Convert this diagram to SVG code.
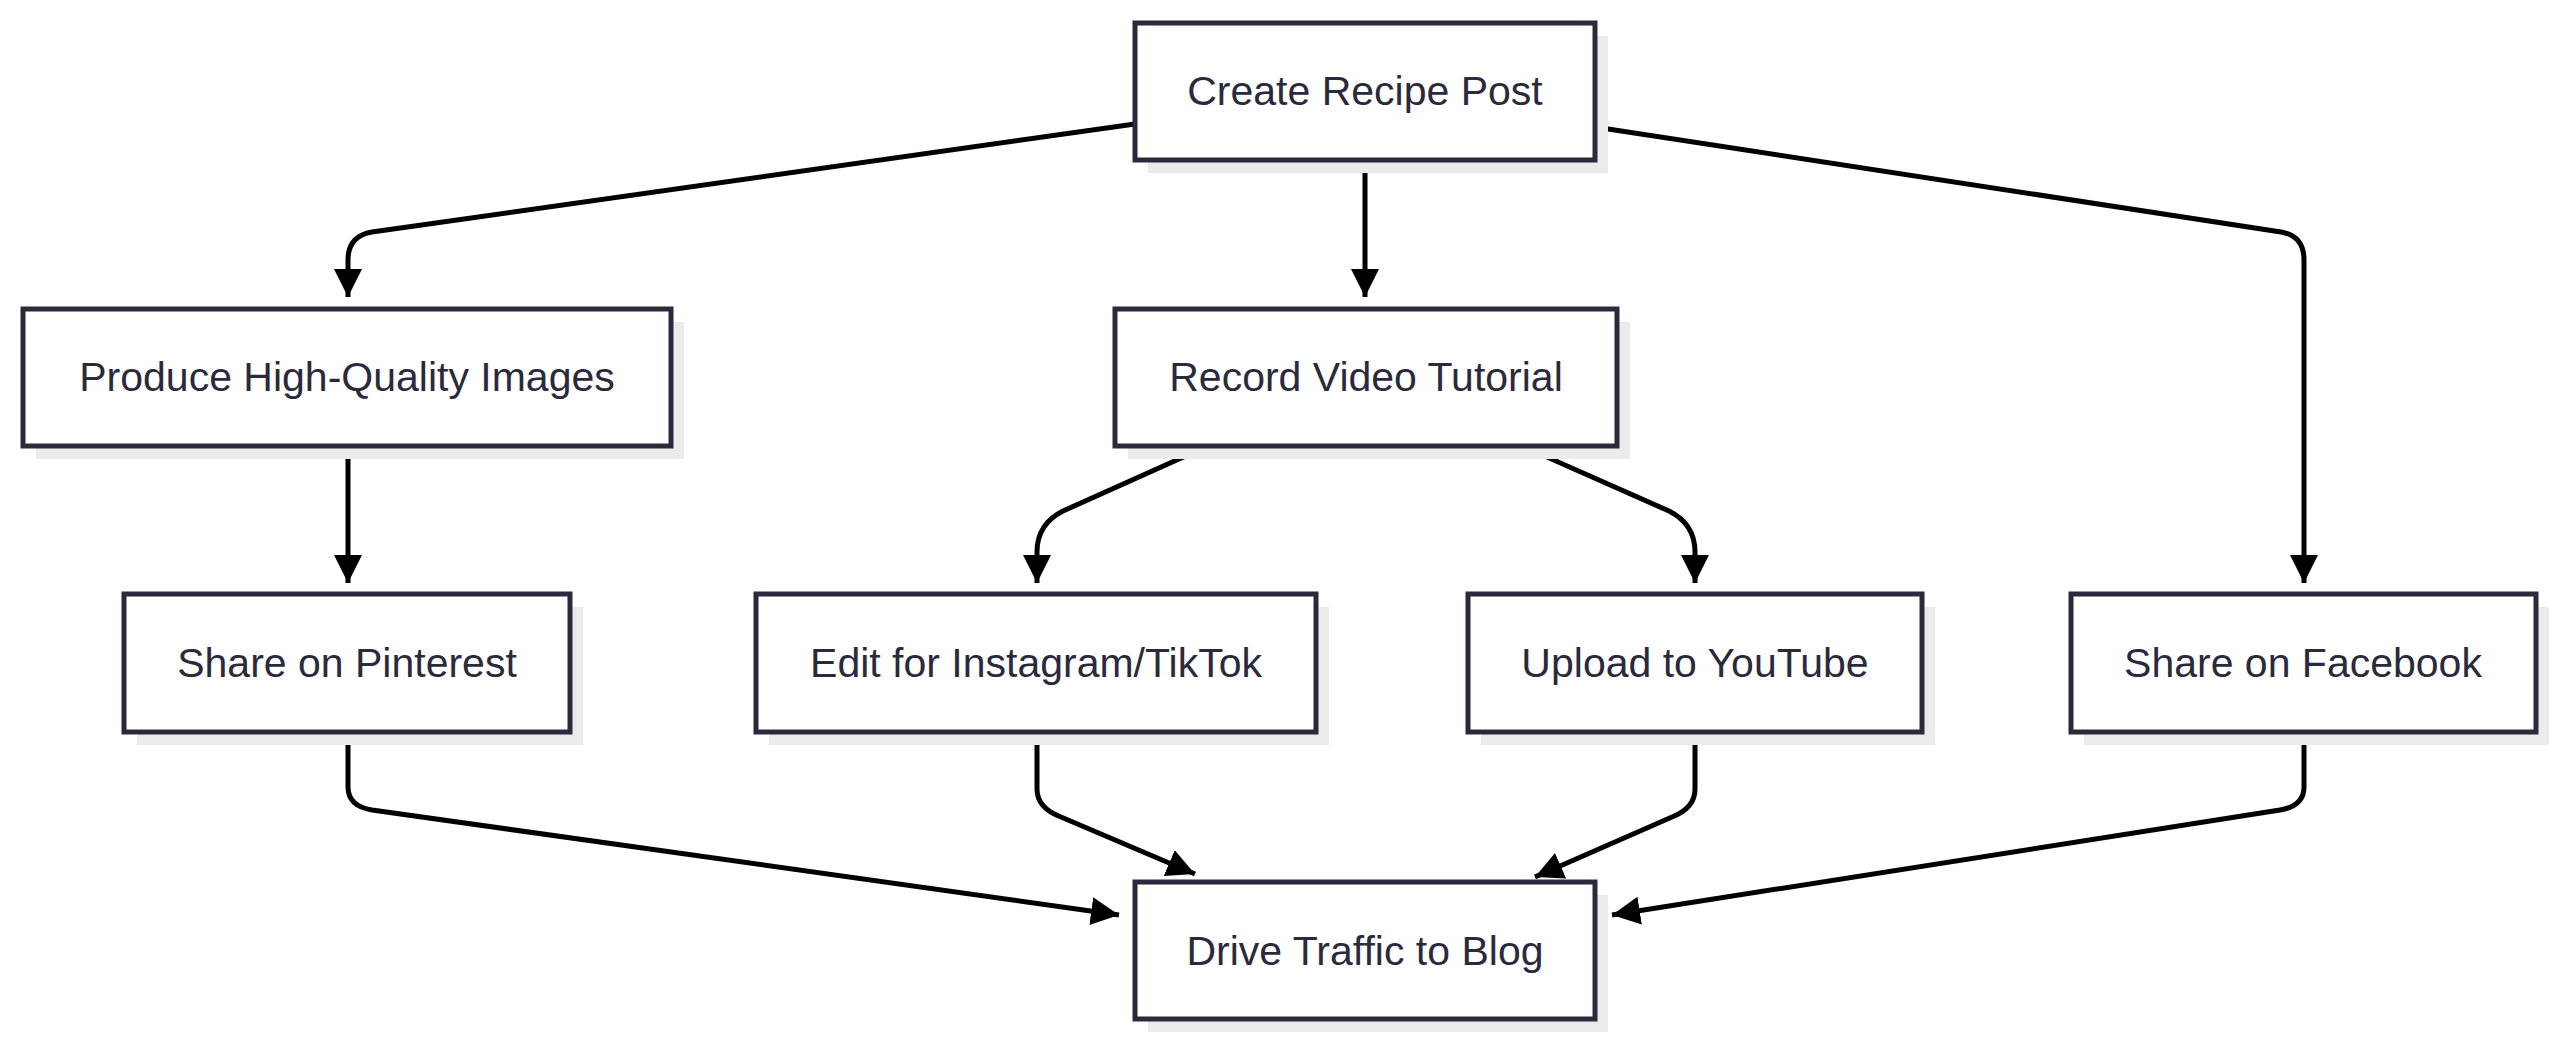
<svg xmlns="http://www.w3.org/2000/svg" width="2560" height="1041" viewBox="0 0 2560 1041">
<style>
.n rect.b{fill:#fff;stroke:#2b2a3d;stroke-width:5}
.n rect.s{fill:#ebebeb}
.n text{font-family:"Liberation Sans",Arial,sans-serif;font-size:41px;fill:#2b2a3d;text-anchor:middle;dominant-baseline:central}
.e path{fill:none;stroke:#000;stroke-width:5}
</style>
<defs>
<marker id="a" markerUnits="userSpaceOnUse" markerWidth="30" markerHeight="30" refX="28" refY="14" orient="auto" viewBox="0 0 30 30">
<path d="M0,0 L28,14 L0,28 z" fill="#000"/>
</marker>
</defs>
<rect width="2560" height="1041" fill="#fff"/>
<g class="e">
<path d="M1135,124 L372,232 Q348,236 348,260 L348,297" marker-end="url(#a)"/>
<path d="M1365,160 L1365,297" marker-end="url(#a)"/>
<path d="M1595,127 L2281,232 Q2304,236 2304,260 L2304,583" marker-end="url(#a)"/>
<path d="M348,446 L348,583" marker-end="url(#a)"/>
<path d="M1208,446 L1063,511 Q1037,524 1037,552 L1037,583" marker-end="url(#a)"/>
<path d="M1522,446 L1669,511 Q1695,524 1695,552 L1695,583" marker-end="url(#a)"/>
<path d="M348,732 L348,787 Q348,806 372,810 L1119,915" marker-end="url(#a)"/>
<path d="M1037,732 L1037,789 Q1037,808 1061,817 L1195,874" marker-end="url(#a)"/>
<path d="M1695,732 L1695,789 Q1695,808 1672,817 L1535,877" marker-end="url(#a)"/>
<path d="M2304,732 L2304,787 Q2304,806 2280,810 L1612,915" marker-end="url(#a)"/>
</g>
<g id="create" class="n"><rect class="s" x="1148" y="36" width="460" height="137"/><rect class="b" x="1135" y="23" width="460" height="137"/><text x="1365" y="91">Create Recipe Post</text></g>
<g id="images" class="n"><rect class="s" x="36" y="322" width="648" height="137"/><rect class="b" x="23" y="309" width="648" height="137"/><text x="347" y="377">Produce High-Quality Images</text></g>
<g id="video" class="n"><rect class="s" x="1128" y="322" width="502" height="137"/><rect class="b" x="1115" y="309" width="502" height="137"/><text x="1366" y="377">Record Video Tutorial</text></g>
<g id="pinterest" class="n"><rect class="s" x="137" y="607" width="446" height="138"/><rect class="b" x="124" y="594" width="446" height="138"/><text x="347" y="663">Share on Pinterest</text></g>
<g id="insta" class="n"><rect class="s" x="769" y="607" width="560" height="138"/><rect class="b" x="756" y="594" width="560" height="138"/><text x="1036" y="663">Edit for Instagram/TikTok</text></g>
<g id="youtube" class="n"><rect class="s" x="1481" y="607" width="454" height="138"/><rect class="b" x="1468" y="594" width="454" height="138"/><text x="1695" y="663">Upload to YouTube</text></g>
<g id="facebook" class="n"><rect class="s" x="2084" y="607" width="465" height="138"/><rect class="b" x="2071" y="594" width="465" height="138"/><text x="2303" y="663">Share on Facebook</text></g>
<g id="blog" class="n"><rect class="s" x="1148" y="895" width="460" height="137"/><rect class="b" x="1135" y="882" width="460" height="137"/><text x="1365" y="951">Drive Traffic to Blog</text></g>
</svg>
